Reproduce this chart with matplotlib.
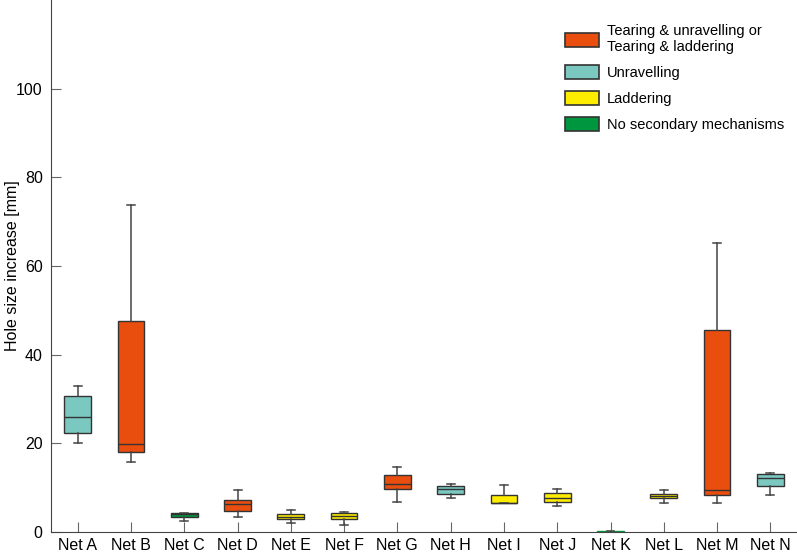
import matplotlib.pyplot as plt
from matplotlib.patches import Patch

plt.rcParams["font.family"] = ["Liberation Sans", "DejaVu Sans"]

nets = ['Net A', 'Net B', 'Net C', 'Net D', 'Net E', 'Net F', 'Net G',
        'Net H', 'Net I', 'Net J', 'Net K', 'Net L', 'Net M', 'Net N']
whislo = [20.1, 15.9, 2.4, 3.4, 2.0, 1.6, 6.8, 7.8, 6.5, 5.8, 0.0, 6.6, 6.5, 8.4]
q1 = [22.3, 18.0, 3.45, 4.7, 3.0, 2.9, 9.75, 8.7, 6.5, 6.8, 0.0, 7.6, 8.4, 10.4]
med = [26.0, 19.9, 4.0, 6.4, 3.5, 3.7, 10.8, 9.7, 6.6, 7.8, 0.0, 8.1, 9.5, 12.2]
q3 = [30.8, 47.5, 4.4, 7.2, 4.0, 4.35, 12.8, 10.5, 8.3, 8.8, 0.35, 8.7, 45.6, 13.1]
whishi = [33.0, 73.7, 4.4, 9.4, 5.0, 4.5, 14.7, 10.8, 10.6, 9.75, 0.35, 9.6, 65.3, 13.4]
groups = ['unrav', 'tear', 'none', 'tear', 'ladder', 'ladder', 'tear',
          'unrav', 'ladder', 'ladder', 'none', 'ladder', 'tear', 'unrav']

colors = {'tear': '#E94E0F', 'unrav': '#7BC8C1', 'ladder': '#FFED00', 'none': '#00963F'}
legend_labels = {'tear': 'Tearing & unravelling or\nTearing & laddering',
                 'unrav': 'Unravelling',
                 'ladder': 'Laddering',
                 'none': 'No secondary mechanisms'}

stats = []
for i in range(len(nets)):
    stats.append({'whislo': whislo[i], 'q1': q1[i], 'med': med[i],
                  'q3': q3[i], 'whishi': whishi[i], 'fliers': [], 'label': nets[i]})

fig = plt.figure(figsize=(7.97, 5.56), dpi=100)
ax = fig.add_axes([0.064, 0.043, 0.936, 0.957])

bp = ax.bxp(stats, positions=range(1, len(nets) + 1), widths=0.5,
            patch_artist=True, showfliers=False,
            boxprops=dict(edgecolor='#333333', linewidth=1.0),
            medianprops=dict(color='#333333', linewidth=1.0),
            whiskerprops=dict(color='#444444', linewidth=1.1),
            capprops=dict(color='#444444', linewidth=1.1),
            capwidths=0.15)
for patch, g in zip(bp['boxes'], groups):
    patch.set_facecolor(colors[g])
# Net K has no spread: draw its outline in its own colour
bp['boxes'][10].set_edgecolor(colors['none'])
bp['medians'][10].set_color(colors['none'])

ax.set_xlim(0.5, 14.5)
ax.set_ylim(0, 120)
ax.set_yticks([0, 20, 40, 60, 80, 100])
ax.spines['top'].set_visible(False)
ax.spines['right'].set_visible(False)
for s in ['left', 'bottom']:
    ax.spines[s].set_color('#444444')
ax.tick_params(direction='in', length=7, color='#666666', labelsize=11.5)
ax.tick_params(axis='x', pad=4)
ax.tick_params(axis='y', pad=6)
ax.set_ylabel('Hole size increase [mm]', fontsize=11.5)
ax.yaxis.set_label_coords(-0.041, 0.5)

handles = [Patch(facecolor=colors[k], edgecolor='#333333', linewidth=1.2,
                 label=legend_labels[k]) for k in ['tear', 'unrav', 'ladder', 'none']]
ax.legend(handles=handles, loc='upper right', bbox_to_anchor=(1.0, 0.979),
          frameon=False, fontsize=10.5, handlelength=2.35, handleheight=1.1,
          labelspacing=0.75, handletextpad=0.5)

plt.savefig('out.png', dpi=100)
